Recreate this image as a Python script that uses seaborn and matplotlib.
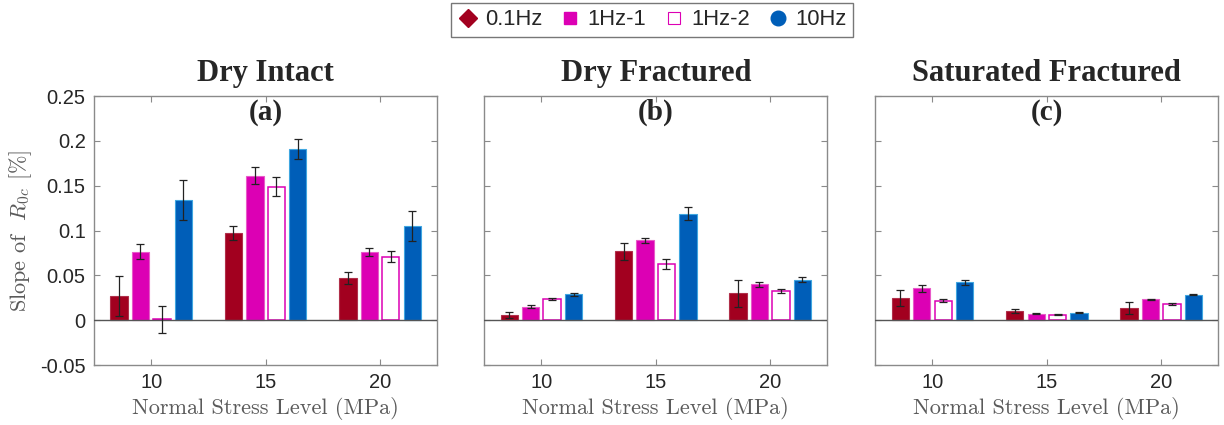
import matplotlib
matplotlib.use("Agg")
import matplotlib.pyplot as plt
from matplotlib.lines import Line2D
import numpy as np
import pandas as pd
import seaborn as sns

# --- data -----------------------------------------------------------------
stress_levels = [10, 15, 20]
frequencies = ["0.1Hz", "1Hz-1", "1Hz-2", "10Hz"]
panel_titles = ["Dry Intact", "Dry Fractured", "Saturated Fractured"]
panel_tags = ["(a)", "(b)", "(c)"]

# slope values, rows = frequency, columns = stress level
dry_intact = [
    [0.027, 0.097, 0.047],
    [0.0765, 0.161, 0.076],
    [0.001, 0.149, 0.071],
    [0.134, 0.191, 0.105],
]
dry_intact_err = [
    [0.022, 0.008, 0.007],
    [0.008, 0.0095, 0.0047],
    [0.015, 0.0105, 0.0065],
    [0.022, 0.0115, 0.017],
]
dry_fractured = [
    [0.006, 0.077, 0.030],
    [0.015, 0.089, 0.040],
    [0.0235, 0.063, 0.0325],
    [0.029, 0.119, 0.045],
]
dry_fractured_err = [
    [0.0034, 0.0093, 0.015],
    [0.0015, 0.0026, 0.003],
    [0.001, 0.0058, 0.0026],
    [0.0015, 0.0074, 0.0027],
]
saturated_fractured = [
    [0.0246, 0.0104, 0.0138],
    [0.0354, 0.0075, 0.0235],
    [0.022, 0.0063, 0.0183],
    [0.0422, 0.0086, 0.0287],
]
saturated_fractured_err = [
    [0.009, 0.0019, 0.007],
    [0.004, 0.0006, 0.0007],
    [0.0022, 0.0005, 0.0008],
    [0.0024, 0.0006, 0.0009],
]

y_ticks = [-0.05, 0, 0.05, 0.1, 0.15, 0.2, 0.25]
y_tick_labels = ["-0.05", "0", "0.05", "0.1", "0.15", "0.2", "0.25"]

colors = {"0.1Hz": "#A2001F", "1Hz-1": "#DC00B4", "1Hz-2": "#DC00B4", "10Hz": "#005EB8"}
edge_colors = {"0.1Hz": "#B0304A", "1Hz-1": "#E85AC8", "1Hz-2": "#E040C0", "10Hz": "#3FA6E0"}

panels = [
    (dry_intact, dry_intact_err),
    (dry_fractured, dry_fractured_err),
    (saturated_fractured, saturated_fractured_err),
]


def to_frame(values, errors):
    rows = []
    for fi, freq in enumerate(frequencies):
        for si, s in enumerate(stress_levels):
            rows.append({"stress": s, "freq": freq,
                         "slope": values[fi][si], "err": errors[fi][si]})
    return pd.DataFrame(rows)


sns.set_theme(style="white")
plt.rcParams["mathtext.fontset"] = "cm"
plt.rcParams["axes.unicode_minus"] = False

fig = plt.figure(figsize=(12.24, 4.25), dpi=100)
lefts = [0.0768, 0.3955, 0.7150]
width, bottom, height = 0.2805, 0.141, 0.633

grey_text = "#5a5a5a"
spine_col = "#8a8a8a"
tick_font = {"fontfamily": "Liberation Sans", "fontsize": 14.5, "color": "#262626"}

for k, (vals, errs) in enumerate(panels):
    ax = fig.add_axes([lefts[k], bottom, width, height])
    df = to_frame(vals, errs)
    sns.barplot(data=df, x="stress", y="slope", hue="freq", hue_order=frequencies,
                palette=colors, native_scale=True, width=0.75, gap=0.2,
                errorbar=None, legend=False, ax=ax, saturation=1)

    err_lookup = {(r.freq, r.stress): r.err for r in df.itertuples()}
    for freq, cont in zip(frequencies, ax.containers):
        for bar in cont:
            xc = bar.get_x() + bar.get_width() / 2
            s = int(round(xc / 5.0) * 5)
            h = bar.get_height()
            if freq == "1Hz-2":
                bar.set_facecolor("white")
                bar.set_edgecolor(colors[freq])
                bar.set_linewidth(1.1)
            else:
                bar.set_edgecolor(edge_colors[freq])
                bar.set_linewidth(0.8)
            ax.errorbar(xc, h, yerr=err_lookup[(freq, s)], fmt="none",
                        ecolor="#222222", elinewidth=0.9, capsize=3.2,
                        capthick=0.9, zorder=5)

    ax.axhline(0, color="#555555", lw=1.0, zorder=4)
    ax.set_xlim(7.5, 22.5)
    ax.set_ylim(-0.05, 0.25)
    ax.set_xticks(stress_levels)
    ax.set_xticklabels([str(s) for s in stress_levels], **tick_font)
    ax.set_yticks(y_ticks)
    if k == 0:
        ax.set_yticklabels(y_tick_labels, **tick_font)
        ax.set_ylabel(r"Slope of  $R_{0c}$ [%]", fontfamily="cmr10",
                      fontsize=16, color=grey_text, labelpad=4)
    else:
        ax.set_yticklabels([])
        ax.set_ylabel("")
    ax.tick_params(direction="in", length=4, width=0.8, color=spine_col,
                   top=True, right=True, bottom=True, left=True, pad=6)
    ax.set_xlabel("Normal Stress Level (MPa)", fontfamily="cmr10",
                  fontsize=16, color=grey_text, labelpad=3)
    for sp in ax.spines.values():
        sp.set_color(spine_col)
        sp.set_linewidth(1.0)
    ax.set_title(panel_titles[k], fontfamily="Liberation Serif", fontweight="bold",
                 fontsize=22, pad=11)
    ax.text(0.5, 0.99, panel_tags[k], transform=ax.transAxes, ha="center",
            va="top", fontfamily="Liberation Serif", fontweight="bold", fontsize=21)

handles = [
    Line2D([], [], ls="none", marker="D", markersize=9.5, color=colors["0.1Hz"]),
    Line2D([], [], ls="none", marker="s", markersize=8, color=colors["1Hz-1"]),
    Line2D([], [], ls="none", marker="s", markersize=8, markerfacecolor="white",
           markeredgecolor=colors["1Hz-2"], markeredgewidth=0.8),
    Line2D([], [], ls="none", marker="o", markersize=10.5, color=colors["10Hz"]),
]
leg = fig.legend(handles, frequencies, loc="center", bbox_to_anchor=(0.533, 0.953),
                 ncol=4, frameon=True, fancybox=False, handlelength=0.9,
                 handletextpad=0.35, columnspacing=0.8, borderpad=0.3,
                 prop={"family": "Liberation Sans", "size": 15.8})
leg.get_frame().set_edgecolor("#555555")
leg.get_frame().set_linewidth(1.0)

fig.savefig("out.png", dpi=100)
